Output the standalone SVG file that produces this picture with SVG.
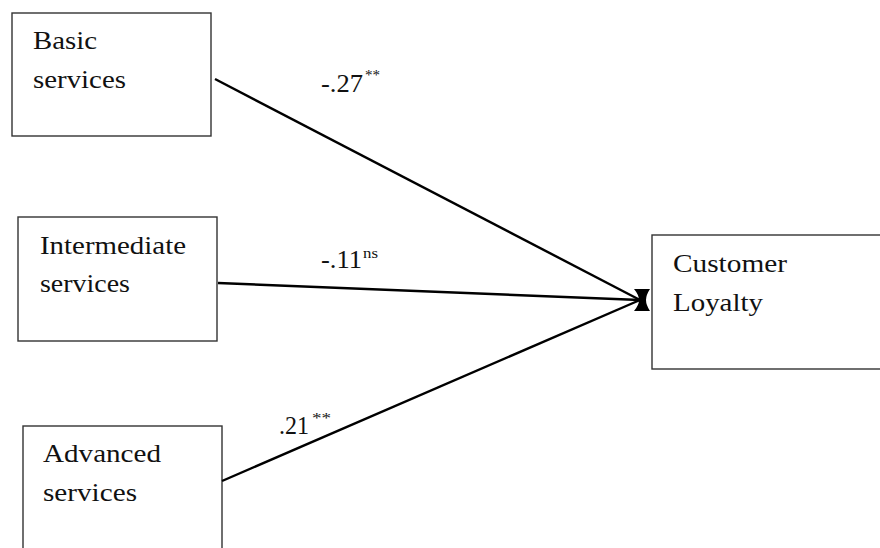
<svg xmlns="http://www.w3.org/2000/svg" width="880" height="548" viewBox="0 0 880 548">
<style>
.box{fill:#fff;stroke:#333;stroke-width:1.4}
.t{font-family:"Liberation Serif","Times New Roman",serif;font-size:26px;fill:#111}
.s{font-family:"Liberation Serif","Times New Roman",serif;font-size:15px;fill:#111}
.c{stroke:#000;stroke-width:2.4;fill:none}
</style>
<rect width="880" height="548" fill="#fff"/>
<g id="basic">
<rect class="box" x="12" y="13" width="199" height="123"/>
<text class="t" x="33" y="49" textLength="64" lengthAdjust="spacingAndGlyphs">Basic</text>
<text class="t" x="33" y="88" textLength="93" lengthAdjust="spacingAndGlyphs">services</text>
</g>
<g id="intermediate">
<rect class="box" x="18" y="217" width="199" height="124"/>
<text class="t" x="40" y="254" textLength="146" lengthAdjust="spacingAndGlyphs">Intermediate</text>
<text class="t" x="40" y="292" textLength="90" lengthAdjust="spacingAndGlyphs">services</text>
</g>
<g id="advanced">
<rect class="box" x="23" y="426" width="199" height="140"/>
<text class="t" x="43" y="462" textLength="118" lengthAdjust="spacingAndGlyphs">Advanced</text>
<text class="t" x="43" y="501" textLength="94" lengthAdjust="spacingAndGlyphs">services</text>
</g>
<g id="loyalty">
<rect class="box" x="652" y="235" width="240" height="134"/>
<text class="t" x="673" y="272" textLength="114" lengthAdjust="spacingAndGlyphs">Customer</text>
<text class="t" x="673" y="311" textLength="90" lengthAdjust="spacingAndGlyphs">Loyalty</text>
</g>
<g id="connectors">
<line class="c" x1="215" y1="79" x2="640" y2="300"/>
<line class="c" x1="218" y1="283" x2="640" y2="300"/>
<line class="c" x1="222" y1="481" x2="640" y2="300"/>
<path d="M634,289 L650,289 Q646,295 646,300 Q646,305 650,311 L634,311 Q639,305 639,300 Q639,295 634,289 Z" fill="#000"/>
</g>
<g id="labels">
<text class="t" x="321" y="92" textLength="42" lengthAdjust="spacingAndGlyphs">-.27</text>
<text class="s" x="365" y="80" textLength="15" lengthAdjust="spacingAndGlyphs">**</text>
<text class="t" x="321" y="268" textLength="41" lengthAdjust="spacingAndGlyphs">-.11</text>
<text class="s" x="363" y="258" textLength="15" lengthAdjust="spacingAndGlyphs">ns</text>
<text class="t" x="279" y="434" textLength="30" lengthAdjust="spacingAndGlyphs">.21</text>
<text class="s" x="312" y="423" textLength="19" lengthAdjust="spacingAndGlyphs">**</text>
</g>
</svg>
